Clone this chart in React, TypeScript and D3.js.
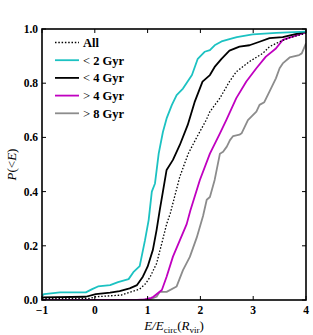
import React, { useEffect, useRef } from 'react';
import * as d3 from 'd3';

// cumulative distributions, [E/Ecirc, P(<E)]
const allGyr: [number, number][] = [
  [-1, 0.005], [-0.1, 0.006], [0.02, 0.012], [0.5, 0.018], [0.6, 0.025], [0.85, 0.04],
  [0.96, 0.06], [1.05, 0.086], [1.17, 0.135], [1.27, 0.21], [1.36, 0.28], [1.43, 0.32],
  [1.61, 0.455], [1.77, 0.54], [1.93, 0.6], [2.11, 0.664], [2.18, 0.695], [2.37, 0.745],
  [2.55, 0.806], [2.68, 0.842], [2.93, 0.88], [3.18, 0.91], [3.31, 0.935], [3.5, 0.953],
  [3.69, 0.968], [4, 0.984],
];
const lt2Gyr: [number, number][] = [
  [-1, 0.015], [-0.96, 0.022], [-0.66, 0.028], [-0.17, 0.028], [-0.05, 0.04], [0.06, 0.05],
  [0.29, 0.055], [0.44, 0.066], [0.64, 0.077], [0.74, 0.105], [0.85, 0.125], [0.95, 0.22],
  [1.02, 0.295], [1.08, 0.4], [1.14, 0.43], [1.21, 0.54], [1.29, 0.62], [1.36, 0.67],
  [1.46, 0.72], [1.55, 0.756], [1.67, 0.78], [1.84, 0.83], [1.95, 0.89], [2.08, 0.916],
  [2.18, 0.922], [2.27, 0.94], [2.4, 0.954], [2.55, 0.963], [2.69, 0.97], [2.99, 0.98],
  [3.44, 0.986], [4, 0.99],
];
const lt4Gyr: [number, number][] = [
  [-1, 0.01], [-0.17, 0.012], [0.02, 0.022], [0.29, 0.027], [0.47, 0.033], [0.66, 0.043],
  [0.8, 0.055], [0.91, 0.086], [1.0, 0.123], [1.1, 0.185], [1.17, 0.258], [1.23, 0.332],
  [1.29, 0.4], [1.36, 0.48], [1.48, 0.517], [1.61, 0.572], [1.76, 0.646], [1.89, 0.73],
  [2.04, 0.806], [2.18, 0.83], [2.27, 0.86], [2.4, 0.89], [2.55, 0.92], [2.74, 0.935],
  [2.93, 0.94], [3.12, 0.953], [3.31, 0.966], [3.56, 0.97], [3.74, 0.978], [4, 0.99],
];
const gt4Gyr: [number, number][] = [
  [-1, 0], [0.8, 0], [0.95, 0.002], [1.07, 0.008], [1.11, 0.012], [1.27, 0.037], [1.36, 0.086],
  [1.48, 0.16], [1.61, 0.22], [1.74, 0.28], [1.81, 0.33], [1.99, 0.443], [2.18, 0.54],
  [2.37, 0.615], [2.49, 0.664], [2.68, 0.745], [2.87, 0.806], [3.06, 0.855], [3.24, 0.898],
  [3.43, 0.928], [3.56, 0.96], [3.69, 0.968], [4, 0.988],
];
const gt8Gyr: [number, number][] = [
  [-1, 0], [0.9, 0], [1.05, 0.003], [1.17, 0.012], [1.23, 0.03], [1.36, 0.03], [1.55, 0.05],
  [1.6, 0.075], [1.67, 0.11], [1.8, 0.159], [1.93, 0.23], [2.05, 0.31], [2.12, 0.37],
  [2.18, 0.38], [2.27, 0.443], [2.37, 0.54], [2.43, 0.547], [2.5, 0.566], [2.56, 0.59],
  [2.62, 0.605], [2.74, 0.61], [2.78, 0.615], [2.9, 0.664], [3.06, 0.695], [3.12, 0.72],
  [3.21, 0.73], [3.31, 0.77], [3.43, 0.818], [3.5, 0.855], [3.56, 0.873], [3.69, 0.895],
  [3.87, 0.904], [3.92, 0.91], [4, 0.947],
];

const xTicks = [-1, 0, 1, 2, 3, 4];
const yTicks = [0, 0.2, 0.4, 0.6, 0.8, 1.0];

const series = [
  { label: 'All', data: allGyr, color: '#000000', dash: '1.5,1.8', width: 1.3, sym: '' },
  { label: '2 Gyr', data: lt2Gyr, color: '#1cc2c2', dash: null, width: 1.8, sym: '<' },
  { label: '4 Gyr', data: lt4Gyr, color: '#000000', dash: null, width: 1.8, sym: '<' },
  { label: '4 Gyr', data: gt4Gyr, color: '#c000c0', dash: null, width: 1.8, sym: '>' },
  { label: '8 Gyr', data: gt8Gyr, color: '#8c8c8c', dash: null, width: 1.8, sym: '>' },
];

const App = () => {
  const svgRef = useRef<SVGSVGElement>(null);

  useEffect(() => {
    const svg = d3.select(svgRef.current);
    svg.selectAll('*').remove();

    const width = 313;
    const height = 335;
    const margin = { top: 29, right: 7, bottom: 35, left: 42 };
    const w = width - margin.left - margin.right;
    const h = height - margin.top - margin.bottom;
    const font = '"Liberation Serif", "Times New Roman", serif';

    svg.attr('width', width).attr('height', height);
    const g = svg.append('g').attr('transform', `translate(${margin.left},${margin.top})`);

    const x = d3.scaleLinear().domain([-1, 4]).range([0, w]);
    const y = d3.scaleLinear().domain([0, 1]).range([h, 0]);

    g.append('defs').append('clipPath').attr('id', 'plotclip')
      .append('rect').attr('x', 0).attr('y', -2).attr('width', w).attr('height', h + 2);

    const line = d3.line<[number, number]>().x(d => x(d[0])).y(d => y(d[1]));

    const lines = g.append('g').attr('clip-path', 'url(#plotclip)');
    // draw in reverse so the dotted 'All' sits on top
    series.slice().reverse().forEach(s => {
      lines.append('path')
        .datum(s.data)
        .attr('d', line)
        .attr('fill', 'none')
        .attr('stroke', s.color)
        .attr('stroke-width', s.width)
        .attr('stroke-dasharray', s.dash)
        .attr('stroke-linejoin', 'round');
    });

    // inward ticks on every side
    const tl = 4;
    const ticks = g.append('g').attr('stroke', '#000').attr('stroke-width', 1);
    xTicks.forEach(t => {
      ticks.append('line').attr('x1', x(t)).attr('x2', x(t)).attr('y1', h).attr('y2', h - tl);
      ticks.append('line').attr('x1', x(t)).attr('x2', x(t)).attr('y1', 0).attr('y2', tl);
    });
    yTicks.forEach(t => {
      ticks.append('line').attr('x1', 0).attr('x2', tl).attr('y1', y(t)).attr('y2', y(t));
      ticks.append('line').attr('x1', w).attr('x2', w - tl).attr('y1', y(t)).attr('y2', y(t));
    });

    g.append('rect')
      .attr('width', w).attr('height', h)
      .attr('fill', 'none').attr('stroke', '#000').attr('stroke-width', 1.6);

    g.selectAll('.xlab').data(xTicks).enter().append('text')
      .attr('x', d => x(d)).attr('y', h + 14)
      .attr('text-anchor', 'middle')
      .style('font-family', font).style('font-size', '11.5px').style('font-weight', 'bold')
      .text(d => (d < 0 ? '\u2212' + Math.abs(d) : String(d)));

    g.selectAll('.ylab').data(yTicks).enter().append('text')
      .attr('x', -4).attr('y', d => y(d) + 4)
      .attr('text-anchor', 'end')
      .style('font-family', font).style('font-size', '11.5px').style('font-weight', 'bold')
      .text(d => d.toFixed(1));

    // x label E/Ecirc(Rvir)
    const xl = g.append('text')
      .attr('x', w / 2).attr('y', h + 30)
      .attr('text-anchor', 'middle')
      .style('font-family', font).style('font-size', '13px');
    xl.append('tspan').style('font-style', 'italic').text('E/E');
    xl.append('tspan').attr('dy', 3).style('font-size', '9px').text('circ');
    xl.append('tspan').attr('dy', -3).text('(');
    xl.append('tspan').style('font-style', 'italic').text('R');
    xl.append('tspan').attr('dy', 3).style('font-size', '9px').text('vir');
    xl.append('tspan').attr('dy', -3).text(')');

    // y label P(<E)
    const yl = g.append('text')
      .attr('transform', `translate(${-26},${h / 2}) rotate(-90)`)
      .attr('text-anchor', 'middle')
      .style('font-family', font).style('font-size', '13px');
    yl.append('tspan').style('font-style', 'italic').text('P');
    yl.append('tspan').text('(<');
    yl.append('tspan').style('font-style', 'italic').text('E');
    yl.append('tspan').text(')');

    // legend
    const leg = g.append('g').attr('transform', 'translate(13,13.5)');
    series.forEach((s, i) => {
      const row = leg.append('g').attr('transform', `translate(0,${i * 17.7})`);
      row.append('line')
        .attr('x1', 0).attr('x2', 24).attr('y1', 0).attr('y2', 0)
        .attr('stroke', s.color).attr('stroke-width', s.width)
        .attr('stroke-dasharray', s.dash);
      const t = row.append('text')
        .attr('x', 28).attr('y', 4.5)
        .style('font-family', font).style('font-size', '12.5px');
      if (s.sym) {
        t.append('tspan').text(s.sym + ' ');
      }
      t.append('tspan').style('font-weight', 'bold').text(s.label);
    });
  }, []);

  return (
    <div style={{ position: 'absolute', left: 0, top: 0, background: '#fff' }}>
      <svg ref={svgRef}></svg>
    </div>
  );
};

export default App;
